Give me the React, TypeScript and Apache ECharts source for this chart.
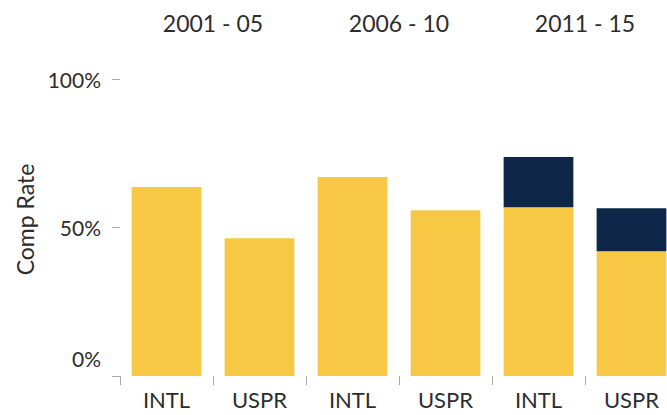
import React, { useEffect, useRef } from "react";
import * as echarts from "echarts";

const categories = ["INTL", "USPR", "INTL", "USPR", "INTL", "USPR"];
const periods = ["2001 - 05", "2006 - 10", "2011 - 15"];
const baseRate = [63.6, 46.4, 67.0, 55.8, 56.8, 42.0];
const extraRate = [null, null, null, null, 16.9, 14.5];
const yTicks = [0, 50, 100];

const FONT = "Lato";
const TEXT = "#2d2d2d";

export default function App() {
  const ref = useRef<HTMLDivElement>(null);
  useEffect(() => {
    if (!ref.current) return;
    const chart = echarts.init(ref.current, undefined, { renderer: "svg" });
    chart.setOption({
      animation: false,
      grid: { left: 120, top: 79, width: 558, bottom: 39, containLabel: false, outerBoundsMode: "none" },
      xAxis: [
        {
          type: "category",
          data: categories,
          axisLine: { show: false },
          axisTick: { show: true, length: 9, lineStyle: { color: "#aaaaaa" } },
          axisLabel: { color: TEXT, fontFamily: FONT, fontSize: 22, margin: 12 },
        },
        {
          type: "category",
          position: "top",
          data: periods,
          axisLine: { show: false },
          axisTick: { show: false },
          axisLabel: { color: TEXT, fontFamily: FONT, fontSize: 23, margin: 45 },
        },
      ],
      yAxis: {
        type: "value",
        min: yTicks[0],
        max: yTicks[yTicks.length - 1],
        interval: 50,
        name: "Comp Rate",
        nameLocation: "middle",
        nameRotate: 90,
        nameGap: 84,
        nameTextStyle: { color: TEXT, fontFamily: FONT, fontSize: 23, padding: [0, 0, 0, 16] },
        axisLine: { show: false },
        axisTick: { show: true, length: 8, lineStyle: { color: "#aaaaaa" } },
        splitLine: { show: false },
        axisLabel: {
          color: TEXT,
          fontFamily: FONT,
          fontSize: 21,
          margin: 19,
          formatter: (v: number) => (v === 0 ? `{zero|${v}%}` : `${v}%`),
          rich: {
            zero: { color: TEXT, fontFamily: FONT, fontSize: 21, padding: [0, 0, 36, 0] },
          },
        },
      },
      series: [
        {
          type: "bar",
          stack: "rate",
          data: baseRate,
          barWidth: "75%",
          itemStyle: { color: "#F6C843" },
        },
        {
          type: "bar",
          stack: "rate",
          data: extraRate,
          barWidth: "75%",
          itemStyle: { color: "#0E2748" },
        },
      ],
    });
    return () => chart.dispose();
  }, []);
  return (
    <div
      ref={ref}
      style={{ position: "fixed", left: 0, top: 0, width: 667, height: 415, background: "#fff" }}
    />
  );
}
